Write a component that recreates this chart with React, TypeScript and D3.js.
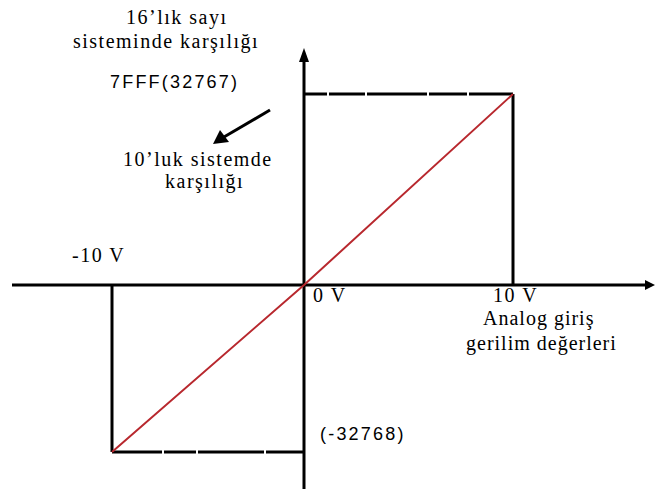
import React from "react";
import * as d3 from "d3";

const voltDomain = [-10, 0, 10];
const codeDomain = [-32768, 0, 32767];
const transferLine = [
  { v: -10, code: -32768 },
  { v: 0, code: 0 },
  { v: 10, code: 32767 },
];
const topGaps = [328, 366, 428, 468];
const bottomGaps = [163, 197, 265];

const W = 655;
const H = 496;
const serif = "'Liberation Serif', 'DejaVu Serif', serif";
const sans = "'Liberation Sans', Arial, sans-serif";

export default function App() {
  const x = d3.scaleLinear().domain(voltDomain).range([112, 304, 513]);
  const y = d3.scaleLinear().domain(codeDomain).range([452, 285, 94]);
  const x0 = x(0), y0 = y(0);
  const xMax = x(10), xMin = x(-10);
  const yMax = y(32767), yMin = y(-32768);
  const line = d3.line<{ v: number; code: number }>().x(d => x(d.v)).y(d => y(d.code));

  const dashed = (x1: number, x2: number, yy: number, gaps: number[]) => {
    const pts = [x1, ...gaps, x2];
    const segs = [];
    for (let i = 0; i < pts.length - 1; i++) {
      const a = i === 0 ? pts[i] : pts[i] + 1;
      const b = i === pts.length - 2 ? pts[i + 1] : pts[i + 1] - 1;
      segs.push(<line key={i} x1={a} x2={b} y1={yy} y2={yy} stroke="#000" strokeWidth={3} />);
    }
    return segs;
  };

  const T = (props: any) => <text {...props} />;

  return (
    <svg width={W} height={H} style={{ position: "absolute", left: 0, top: 0, background: "#fff" }}>
      <rect width={W} height={H} fill="#fff" />
      {/* axes */}
      <line x1={12} x2={646} y1={y0} y2={y0} stroke="#000" strokeWidth={3} />
      <path d={`M655,${y0} L645,${y0 - 5} L645,${y0 + 5} Z`} fill="#000" />
      <line x1={x0} x2={x0} y1={60} y2={489} stroke="#000" strokeWidth={3} />
      <path d={`M${x0},48 L${x0 - 5},62 L${x0 + 5},62 Z`} fill="#000" />
      {/* box lines */}
      {dashed(x0, xMax, yMax, topGaps)}
      <line x1={xMax} x2={xMax} y1={yMax} y2={y0} stroke="#000" strokeWidth={3} />
      {dashed(xMin, x0, yMin, bottomGaps)}
      <line x1={xMin} x2={xMin} y1={y0} y2={yMin} stroke="#000" strokeWidth={3} />
      {/* transfer line */}
      <path d={line(transferLine) || ""} fill="none" stroke="#b8282e" strokeWidth={2} />
      {/* pointer arrow */}
      <line x1={270} y1={110} x2={224} y2={137} stroke="#000" strokeWidth={3} />
      <path d="M213,144 L220,130 L229,142 Z" fill="#000" />
      {/* texts */}
      <g fontFamily={serif} fontSize={20} fill="#000" letterSpacing={1.5}>
        <T x={126} y={24}>16’lık sayı</T>
        <T x={73} y={48}>sisteminde karşılığı</T>
        <T x={123} y={166}>10’luk sistemde</T>
        <T x={165} y={188}>karşılığı</T>
        <T x={72} y={262}>-10 V</T>
        <T x={313} y={302}>0 V</T>
        <T x={493} y={302}>10 V</T>
        <T x={483} y={325} letterSpacing={1}>Analog giriş</T>
        <T x={466} y={350} letterSpacing={1}>gerilim değerleri</T>
      </g>
      <g fontFamily={sans} fontSize={18} fill="#000" letterSpacing={2.2}>
        <T x={110} y={88}>7FFF(32767)</T>
        <T x={320} y={440}>(-32768)</T>
      </g>
    </svg>
  );
}
